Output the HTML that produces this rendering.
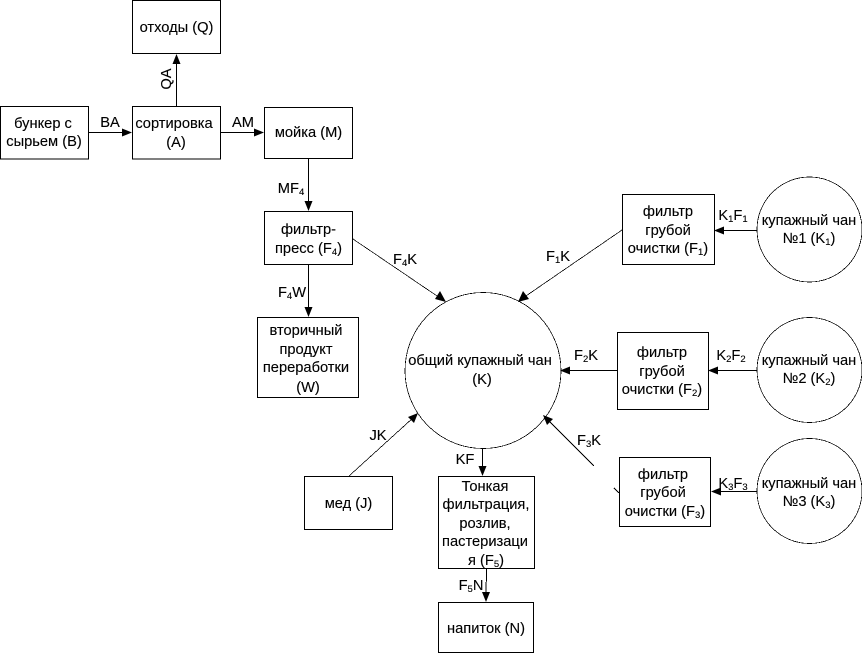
<!DOCTYPE html>
<html><head><meta charset="utf-8">
<style>
html,body{margin:0;padding:0;background:#fff;width:862px;height:653px;overflow:hidden}
svg{display:block}
text{font-family:"Liberation Sans",sans-serif;font-size:14.67px;fill:#000;text-anchor:middle;stroke:#000;stroke-width:.12}
tspan.s{font-size:9.5px}
.l{shape-rendering:crispEdges;stroke:#000;stroke-width:1;fill:none}
.d{shape-rendering:crispEdges;stroke:#000;stroke-width:.75;fill:none}
.a{fill:#000;stroke:none}
</style></head><body>
<svg width="862" height="653" viewBox="0 0 862 653" xmlns="http://www.w3.org/2000/svg">
<!-- boxes -->
<g class="l">
<rect x="132.5" y="0.5" width="88" height="53"/>
<rect x="0.5" y="106.5" width="88" height="52.5"/>
<rect x="132.5" y="106.5" width="88" height="52.5"/>
<rect x="264.5" y="107.5" width="88" height="51"/>
<rect x="264.5" y="211.5" width="88" height="53"/>
<rect x="257.5" y="317.5" width="101" height="80"/>
<rect x="622.5" y="194.5" width="92" height="70"/>
<rect x="617.5" y="332.5" width="91" height="77"/>
<rect x="619.5" y="457.5" width="91" height="69"/>
<rect x="304.5" y="476.5" width="88" height="53"/>
<rect x="438.5" y="476.5" width="96" height="92"/>
<rect x="438.5" y="602.5" width="95" height="50"/>
</g>
<!-- circles -->
<g class="d">
<circle cx="483" cy="370.5" r="78"/>
<circle cx="809.5" cy="229.5" r="52.5"/>
<circle cx="809.5" cy="370" r="52.5"/>
<circle cx="809.5" cy="491" r="52.5"/>
</g>
<!-- connectors -->
<g class="l">
<line x1="88" y1="132.5" x2="126" y2="132.5"/>
<line x1="220" y1="132.5" x2="258" y2="132.5"/>
<line x1="176.5" y1="106" x2="176.5" y2="60"/>
<line x1="308.5" y1="158" x2="308.5" y2="205"/>
<line x1="308.5" y1="264" x2="308.5" y2="311"/>
<line x1="757" y1="230.5" x2="720" y2="230.5"/>
<line x1="757" y1="370.5" x2="714" y2="370.5"/>
<line x1="617" y1="370.5" x2="566" y2="370.5"/>
<line x1="757" y1="491.5" x2="716" y2="491.5"/>
<line x1="482.5" y1="448" x2="482.5" y2="470"/>
<line x1="486.5" y1="568" x2="486" y2="596"/>
</g>
<g class="d">
<line x1="353" y1="239" x2="440" y2="298"/>
<line x1="622" y1="230" x2="523" y2="298"/>
<line x1="594" y1="466" x2="547" y2="419"/>
<line x1="614" y1="488" x2="619" y2="493"/>
<line x1="349" y1="476" x2="414" y2="417"/>
</g>
<!-- arrowheads -->
<g class="a">
<polygon points="132,132.5 122,128.5 122,136.5"/>
<polygon points="264,132.5 254,128.5 254,136.5"/>
<polygon points="176.5,54 172.5,64 180.5,64"/>
<polygon points="308.5,211 304.5,201 312.5,201"/>
<polygon points="308.5,317 304.5,307 312.5,307"/>
<polygon points="446,302 435,299 440,291"/>
<polygon points="518,302 523,291 529,299"/>
<polygon points="714,230.5 724,226.5 724,234.5"/>
<polygon points="708,370.5 718,366.5 718,374.5"/>
<polygon points="560,370.5 570,366.5 570,374.5"/>
<polygon points="711,491.5 721,487.5 721,495.5"/>
<polygon points="543,415 553,419 547,425"/>
<polygon points="418,413 414,423 408,417"/>
<polygon points="482.5,476 478.5,466 486.5,466"/>
<polygon points="486,602 482,592 490,592"/>
</g>
<!-- node labels -->
<text x="176.5" y="32">отходы (Q)</text>
<text x="43" y="128">бункер с</text>
<text x="44" y="146">сырьем (B)</text>
<text x="174" y="128">сортировка</text>
<text x="176" y="147">(A)</text>
<text x="308.5" y="137">мойка (M)</text>
<text x="308.5" y="234">фильтр-</text>
<text x="308.5" y="253">пресс (F<tspan class="s" dy="2">4</tspan><tspan dy="-2">)</tspan></text>
<text x="306" y="335">вторичный</text>
<text x="306" y="354">продукт</text>
<text x="306" y="372">переработки</text>
<text x="308" y="392">(W)</text>
<text x="480" y="365">общий купажный чан</text>
<text x="482" y="384">(K)</text>
<text x="668" y="216">фильтр</text>
<text x="668" y="235">грубой</text>
<text x="668" y="253">очистки (F<tspan class="s" dy="2">1</tspan><tspan dy="-2">)</tspan></text>
<text x="809" y="225">купажный чан</text>
<text x="809" y="243">№1 (K<tspan class="s" dy="2">1</tspan><tspan dy="-2">)</tspan></text>
<text x="662" y="357">фильтр</text>
<text x="662" y="376">грубой</text>
<text x="662" y="394">очистки (F<tspan class="s" dy="2">2</tspan><tspan dy="-2">)</tspan></text>
<text x="809" y="365">купажный чан</text>
<text x="809" y="383">№2 (K<tspan class="s" dy="2">2</tspan><tspan dy="-2">)</tspan></text>
<text x="663" y="479">фильтр</text>
<text x="663" y="497">грубой</text>
<text x="665" y="516">очистки (F<tspan class="s" dy="2">3</tspan><tspan dy="-2">)</tspan></text>
<text x="809" y="488">купажный чан</text>
<text x="809" y="506">№3 (K<tspan class="s" dy="2">3</tspan><tspan dy="-2">)</tspan></text>
<text x="348.5" y="508">мед (J)</text>
<text x="485" y="491">Тонкая</text>
<text x="486" y="509">фильтрация,</text>
<text x="485" y="528">розлив,</text>
<text x="485" y="546">пастеризаци</text>
<text x="486" y="565">я (F<tspan class="s" dy="2">5</tspan><tspan dy="-2">)</tspan></text>
<text x="486" y="633">напиток (N)</text>
<!-- edge labels -->
<text x="110" y="127">BA</text>
<text x="243" y="127">AM</text>
<text transform="translate(171 79) rotate(-90)">QA</text>
<text x="291" y="193">MF<tspan class="s" dy="2">4</tspan></text>
<text x="292" y="297">F<tspan class="s" dy="2">4</tspan><tspan dy="-2">W</tspan></text>
<text x="405" y="264">F<tspan class="s" dy="2">4</tspan><tspan dy="-2">K</tspan></text>
<text x="558" y="261">F<tspan class="s" dy="2">1</tspan><tspan dy="-2">K</tspan></text>
<text x="733" y="220">K<tspan class="s" dy="2">1</tspan><tspan dy="-2">F</tspan><tspan class="s" dy="2">1</tspan></text>
<text x="731" y="360">K<tspan class="s" dy="2">2</tspan><tspan dy="-2">F</tspan><tspan class="s" dy="2">2</tspan></text>
<text x="586" y="360">F<tspan class="s" dy="2">2</tspan><tspan dy="-2">K</tspan></text>
<text x="733" y="488">K<tspan class="s" dy="2">3</tspan><tspan dy="-2">F</tspan><tspan class="s" dy="2">3</tspan></text>
<text x="589" y="445">F<tspan class="s" dy="2">3</tspan><tspan dy="-2">K</tspan></text>
<text x="378" y="440">JK</text>
<text x="465" y="464">KF</text>
<text x="471" y="590">F<tspan class="s" dy="2">5</tspan><tspan dy="-2">N</tspan></text>
</svg>
</body></html>
